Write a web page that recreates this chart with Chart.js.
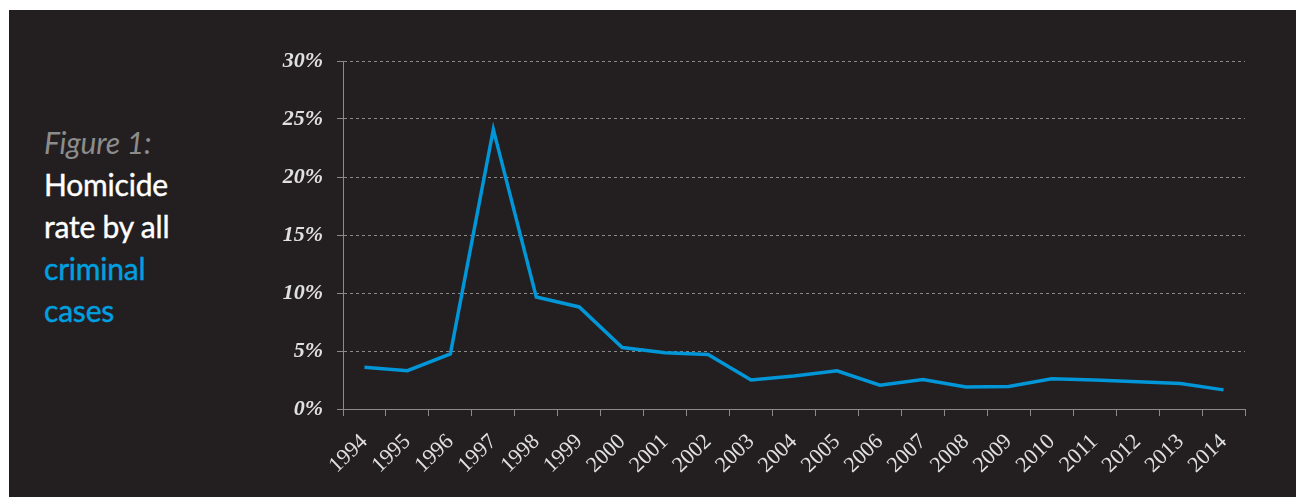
<!DOCTYPE html>
<html>
<head>
<meta charset="utf-8">
<script src="https://cdn.jsdelivr.net/npm/chart.js@4/dist/chart.umd.min.js"></script>
<style>
  html, body { margin: 0; padding: 0; background: #ffffff; }
  body { width: 1296px; height: 497px; position: relative; overflow: hidden; }
  #panel { position: absolute; left: 9px; top: 10px; right: 0; bottom: 0; background: #231f20; }
  #wrap { position: absolute; left: 0; top: 0; width: 1296px; height: 497px; }
  #title { position: absolute; left: 44px; top: 121px; font-family: Lato, "Open Sans", sans-serif;
           font-size: 30px; line-height: 42px; color: #ffffff; letter-spacing: -0.2px;
           -webkit-text-stroke: 0.4px currentColor; }
  #title .fig { color: #8c8c8c; font-style: italic; -webkit-text-stroke: 0; }
  #title .hl { color: #00a0e0; }
</style>
</head>
<body>
<div id="panel"></div>
<div id="title">
  <div class="fig">Figure 1:</div>
  <div>Homicide</div>
  <div>rate by all</div>
  <div class="hl">criminal</div>
  <div class="hl">cases</div>
</div>
<div id="wrap"><canvas id="c" width="1296" height="497"></canvas></div>
<script>
// Years on the category axis
const years = ['1994','1995','1996','1997','1998','1999','2000','2001','2002','2003','2004',
               '2005','2006','2007','2008','2009','2010','2011','2012','2013','2014'];
// Homicide share of all criminal cases, percent
const homicideRate = [3.6, 3.3, 4.75, 24.1, 9.65, 8.8, 5.3, 4.85, 4.7, 2.5, 2.85,
                      3.3, 2.05, 2.55, 1.9, 1.95, 2.6, 2.5, 2.35, 2.2, 1.65];
// Value-axis ticks
const rateTicks = [0, 5, 10, 15, 20, 25, 30];

const axisGray = '#8a8a8a';
const labelGray = '#e0e0e0';

new Chart(document.getElementById('c'), {
  type: 'line',
  data: {
    labels: years,
    datasets: [{
      data: homicideRate,
      borderColor: '#0096d8',
      borderWidth: 3.5,
      pointRadius: 0,
      tension: 0,
      fill: false
    }]
  },
  options: {
    responsive: false,
    animation: false,
    layout: { padding: { left: 0, top: 61, right: 51, bottom: 0 } },
    plugins: { legend: { display: false }, tooltip: { enabled: false } },
    scales: {
      x: {
        offset: true,
        afterFit: s => { s.height = 88; },
        grid: { display: true, drawOnChartArea: false, drawTicks: true, tickLength: 7,
                offset: true, color: axisGray, tickColor: axisGray },
        border: { display: true, color: axisGray, width: 1 },
        ticks: { color: labelGray, font: { family: '"Liberation Serif", serif', size: 22 },
                 minRotation: 44, maxRotation: 44, autoSkip: false, padding: 13 }
      },
      y: {
        min: 0, max: 30,
        afterFit: s => { s.width = 343; },
        afterBuildTicks: s => { s.ticks = rateTicks.map(v => ({ value: v })); },
        grid: { color: axisGray, lineWidth: 1, tickBorderDash: [],
                tickLength: 6, tickColor: axisGray, drawTicks: true },
        border: { display: true, color: axisGray, width: 1, dash: [3, 3] },
        ticks: { color: labelGray, padding: 14,
                 font: { family: '"Liberation Serif", serif', size: 22, style: 'italic', weight: 'bold' },
                 callback: v => v + '%' }
      }
    }
  }
});
</script>
</body>
</html>
